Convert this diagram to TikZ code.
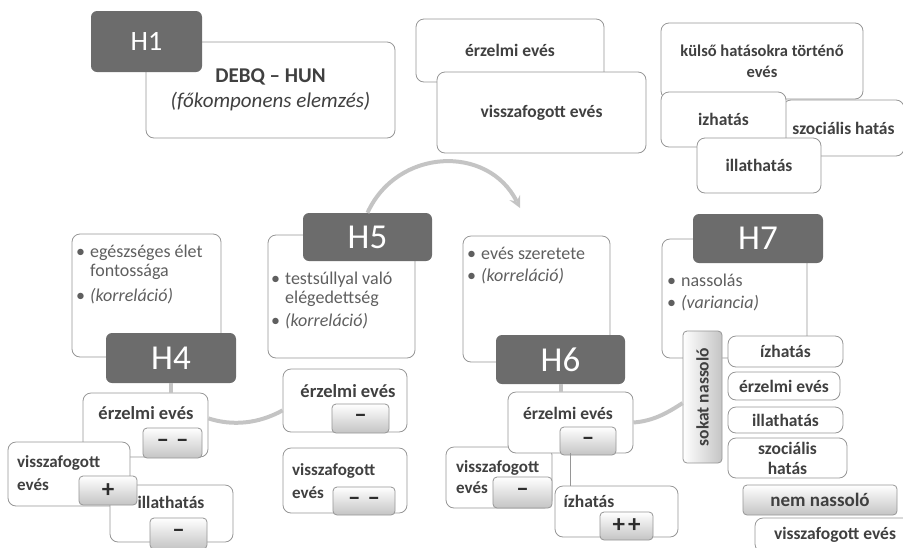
\documentclass[tikz,border=0pt]{standalone}
\definecolor{dqDark}{RGB}{108,108,108}
\definecolor{dqLine}{RGB}{150,150,150}
\definecolor{dqText}{RGB}{64,64,64}
\definecolor{dqBullet}{RGB}{95,95,95}
\definecolor{dqCycle}{RGB}{196,196,196}
\definecolor{dqSign}{RGB}{196,196,196}
\definecolor{dqSignText}{RGB}{45,45,45}
\usepackage{fontspec}
\setmainfont{Carlito}
\usepackage{graphicx}
\usepackage{tikz}
\usetikzlibrary{shapes,arrows,positioning}

\begin{document}
\begin{tikzpicture}[x=1pt, y=-1pt,
    sz/.style n args={2}{minimum width=#1pt, minimum height=#2pt},
    box/.style={draw=dqLine, line width=0.8pt, rounded corners=8pt, fill=white, inner sep=0pt, text=dqText, align=center, font=\fontsize{17.5}{20}\selectfont\bfseries},
    hbox/.style={fill=dqDark, rounded corners=6pt, inner sep=0pt, text=white, font=\fontsize{35}{36}\selectfont},
    sign/.style={draw=dqLine, line width=0.8pt, rounded corners=4pt, top color=white, bottom color=dqSign, inner sep=0pt, text=dqSignText, font=\fontsize{25}{25}\selectfont\bfseries},
    lbl/.style={inner sep=0pt, text=dqText, align=left, font=\fontsize{17.5}{20}\selectfont\bfseries},
    blt/.style={inner sep=0pt, text=dqBullet, anchor=base west, font=\fontsize{18}{19}\selectfont},
    cyc/.style={draw=dqCycle, line width=4pt},
    link/.style={draw=dqLine, line width=0.8pt}]
    \useasboundingbox (0,0) rectangle (903,547);

    % H1
    \node[box, sz={249}{96}, font=\fontsize{21}{25}\selectfont] (debq) at (270.5,90) {\textbf{DEBQ – HUN}\\\textit{(főkomponens elemzés)}};
    \node[hbox, sz={111}{61}, font=\fontsize{28}{30}\selectfont] (h1) at (146.5,41.5) {H1};

    % top factors
    \node[box, sz={188}{63}] (topErz) at (510,50.5) {érzelmi evés};
    \node[box, sz={209}{81}] (topVis) at (541.5,112.5) {visszafogott evés};
    \node[box, sz={202}{76}, font=\fontsize{16.5}{21}\selectfont\bfseries] (topKul) at (762,61) {külső hatásokra történő\\evés};
    \node[box, sz={121}{56}] (topSzoc) at (843.5,128) {szociális hatás};
    \node[box, sz={125}{55}] (topIz) at (723.5,119.5) {izhatás};
    \node[box, sz={124}{55}] (topIll) at (759,165.5) {illathatás};

    % H4
    \node[box, sz={149}{123}] (c4) at (146.5,295.5) {};
    \node[blt] (c4t) at (76,257) {\begin{tabular}[t]{@{}l@{\hspace{5pt}}l@{}}\textbullet & egészséges élet\\ & fontossága\\[6pt] \textbullet & \textit{(korreláció)}\end{tabular}};
    \node[hbox, sz={130}{50}] (h4) at (171,358) {H4};

    % H5
    \node[box, sz={147}{123}] (c5) at (341.5,296.5) {};
    \node[blt] (c5t) at (271,284) {\begin{tabular}[t]{@{}l@{\hspace{5pt}}l@{}}\textbullet & testsúllyal való\\ & elégedettség\\[4pt] \textbullet & \textit{(korreláció)}\end{tabular}};
    \node[hbox, sz={129}{48}] (h5) at (367.5,237) {H5};

    % H6
    \node[box, sz={147}{126}] (c6) at (536.5,299) {};
    \node[blt] (c6t) at (467,259) {\begin{tabular}[t]{@{}l@{\hspace{5pt}}l@{}}\textbullet & evés szeretete\\[3pt] \textbullet & \textit{(korreláció)}\end{tabular}};
    \node[hbox, sz={129}{49}] (h6) at (560.5,359.5) {H6};

    % H7
    \node[box, sz={145}{119}] (c7) at (734.5,298.5) {};
    \node[blt] (c7t) at (667,286) {\begin{tabular}[t]{@{}l@{\hspace{5pt}}l@{}}\textbullet & nassolás\\[3pt] \textbullet & \textit{(variancia)}\end{tabular}};
    \node[hbox, sz={130}{49}] (h7) at (758,238.5) {H7};

    % cycle arrow H5 -> H6
    \coordinate (c6in) at (520,208);
    \draw[cyc, -stealth] (h5.north) .. controls (397,148) and (488,144) .. (c6in);

    % H4 results
    \node[box, sz={125}{64}] (a4erz) at (145.5,425) {};
    \node[lbl, font=\fontsize{18.5}{20}\selectfont\bfseries] (a4erzT) at (146,413) {érzelmi evés};
    \node[sign, sz={59}{30}] (a4erzS) at (172.5,443) {–\hspace{7pt}–};
    \node[box, sz={122}{64}] (a4vis) at (69,474) {};
    \node[lbl, anchor=west, font=\fontsize{17}{23}\selectfont\bfseries] (a4visT) at (17,473.5) {visszafogott\\evés};
    \node[box, sz={123}{57}] (a4ill) at (171.5,513.5) {};
    \node[lbl] (a4illT) at (171,502) {illathatás};
    \node[sign, sz={58}{29}] (a4visS) at (108,490.5) {+};
    \node[sign, sz={57}{31}] (a4illS) at (178.5,533.5) {–};

    % H5 results
    \node[box, sz={124}{63}] (a5erz) at (345,400.5) {};
    \node[lbl, font=\fontsize{18.5}{20}\selectfont\bfseries] (a5erzT) at (348,391) {érzelmi evés};
    \node[sign, sz={57}{29}] (a5erzS) at (360.5,418.5) {–};
    \node[box, sz={124}{65}] (a5vis) at (345,480.5) {};
    \node[lbl, anchor=west, font=\fontsize{17}{23}\selectfont\bfseries] (a5visT) at (292,481.5) {visszafogott\\evés};
    \node[sign, sz={62}{28}] (a5visS) at (364,501) {–\hspace{7pt}–};

    % H6 results
    \node[box, sz={106}{61}] (a6vis) at (499,477.5) {};
    \node[lbl, anchor=west, font=\fontsize{17}{21}\selectfont\bfseries] (a6visT) at (456,477.5) {visszafogott\\evés};
    \node[sign, sz={59}{31}] (a6visS) at (522.5,492.5) {–};
    \node[box, sz={125}{61}] (a6erz) at (570.5,422.5) {};
    \node[lbl] (a6erzT) at (568,413) {érzelmi evés};
    \node[sign, sz={56}{28}] (a6erzS) at (588,441) {–};
    \node[box, sz={123}{51}] (a6izh) at (616.5,511.5) {};
    \node[lbl] (a6izhT) at (589,501) {ízhatás};
    \node[sign, sz={53}{28}] (a6izhS) at (626.5,526) {+\hspace{3pt}+};
    \coordinate (x570) at (570,0);
    \draw[link] (a6erz.south -| x570) -- (a6izh.north -| x570);

    % H7 results
    \node[box, sz={39}{132}, rounded corners=4pt, shade, left color=white, right color=dqSign] (sokat) at (702.5,397) {\rotatebox{90}{sokat nassoló}};
    \node[box, sz={115}{31}] (b7izh) at (785.5,351.5) {ízhatás};
    \node[box, sz={112}{28}] (b7erz) at (784,386) {érzelmi evés};
    \node[box, sz={115}{26}] (b7ill) at (785.5,420) {illathatás};
    \node[box, sz={119}{40}] (b7szoc) at (787.5,458) {szociális\\hatás};
    \node[sign, sz={154}{30}, text=dqText, font=\fontsize{19}{19}\selectfont\bfseries] (nem) at (820,500) {nem nassoló};
    \node[box, sz={160}{34}] (b7vis) at (835,535) {visszafogott evés};

    % cycle pieces
    \draw[cyc] (h4.south) -- (h4.south |- a4erz.north);
    \draw[cyc] (h6.south) -- (h6.south |- a6erz.north);
    \draw[cyc] (a4erz.6) .. controls (232,426) and (258,424) .. (a5erz.189);
    \draw[cyc] (a6erz.east) .. controls (655,421) and (670,411) .. (sokat.197);
\end{tikzpicture}
\end{document}
